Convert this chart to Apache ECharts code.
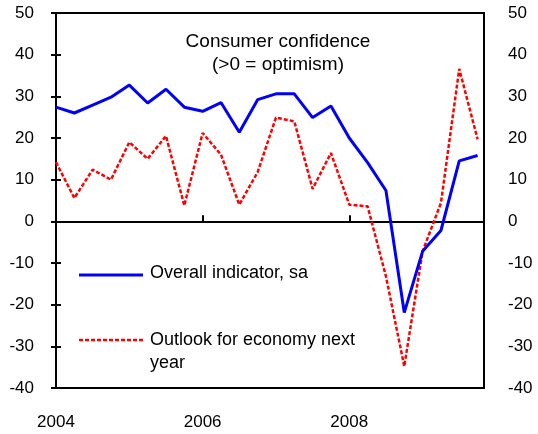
<!DOCTYPE html>
<html>
<head>
<meta charset="utf-8">
<script src="https://cdn.jsdelivr.net/npm/echarts@6/dist/echarts.min.js"></script>
<style>
  html, body { margin: 0; padding: 0; background: #fff; }
  #chart { width: 538px; height: 434px; }
</style>
</head>
<body>
<div id="chart"></div>
<script>
// quarterly, 2004Q1 .. 2009Q4
var overall = [27.4, 26.0, 27.9, 29.8, 32.7, 28.4, 31.7, 27.4, 26.4, 28.5, 21.4, 29.2,
  30.6, 30.6, 24.9, 27.7, 20.0, 14.1, 7.4, -21.9, -7.2, -2.2, 14.5, 15.8]
var outlook = [14.2, 5.6, 12.4, 10.0, 19.0, 15.0, 20.5, 3.8, 21.2, 16.0, 4.0, 11.8,
  24.9, 24.0, 7.8, 16.4, 4.0, 3.6, -13.2, -34.8, -7.2, 4.4, 36.6, 19.7]
var firstYear = 2004
var yearTicks = [2004, 2006, 2008]
var yTicks = [-40, -30, -20, -10, 0, 10, 20, 30, 40, 50]

var font = 'Liberation Sans, Arial, sans-serif'
var toPts = function (arr) {
  return arr.map(function (v, i) { return [i, v] })
}

var chart = echarts.init(document.getElementById('chart'))

var yBase = {
  type: 'value',
  min: yTicks[0],
  max: yTicks[yTicks.length - 1],
  interval: 10,
  splitLine: {show: false},
  axisLine: {show: true, lineStyle: {color: '#000', width: 2}},
  axisTick: {show: true, inside: true, length: 5, lineStyle: {color: '#000', width: 2}},
  axisLabel: {color: '#000', fontSize: 17, fontFamily: font}
}

chart.setOption({
  animation: false,
  grid: {left: 56, right: 54, top: 13, bottom: 46, show: true, borderColor: '#000', borderWidth: 2},
  title: {
    text: 'Consumer confidence\n(>0 = optimism)',
    left: 273, top: 25, textAlign: 'center',
    textStyle: {color: '#000', fontSize: 19, fontWeight: 'normal', fontFamily: font, lineHeight: 23}
  },
  xAxis: [{
    type: 'value', min: 0, max: 23.35, interval: 8, position: 'bottom',
    splitLine: {show: false},
    axisLine: {show: true, onZero: true, lineStyle: {color: '#000', width: 2}},
    axisTick: {show: true, inside: true, length: 6, lineStyle: {color: '#000', width: 2}},
    axisLabel: {show: false}
  }, {
    type: 'value', min: 0, max: 23.35, interval: 8, position: 'bottom',
    splitLine: {show: false},
    axisLine: {show: true, onZero: false, lineStyle: {color: '#000', width: 2}},
    axisTick: {show: false},
    axisLabel: {
      color: '#000', fontSize: 17, fontFamily: font, margin: 26, showMaxLabel: false,
      formatter: function (v) {
        var yr = firstYear + v / 4
        return yearTicks.indexOf(yr) >= 0 ? String(yr) : ''
      }
    }
  }],
  yAxis: [
    Object.assign({}, yBase, {position: 'left', axisLabel: Object.assign({}, yBase.axisLabel, {margin: 22})}),
    Object.assign({}, yBase, {position: 'right', axisLabel: Object.assign({}, yBase.axisLabel, {margin: 24})})
  ],
  series: [{
    name: 'Outlook for economy next year',
    type: 'line', data: toPts(outlook), showSymbol: false,
    lineStyle: {color: '#ff0000', width: 2.5, type: [4, 2]}
  }, {
    name: 'Overall indicator, sa',
    type: 'line', data: toPts(overall), showSymbol: false,
    lineStyle: {color: '#0000ff', width: 3}
  }],
  graphic: [
    {type: 'line', shape: {x1: 79, y1: 275, x2: 143, y2: 275}, style: {stroke: '#0000ff', lineWidth: 3}},
    {type: 'text', left: 150, top: 264, style: {text: 'Overall indicator, sa', fill: '#000', fontSize: 18, fontFamily: font}},
    {type: 'line', shape: {x1: 79, y1: 340, x2: 143, y2: 340}, style: {stroke: '#ff0000', lineWidth: 2.5, lineDash: [4, 2]}},
    {type: 'text', left: 150, top: 329, style: {text: 'Outlook for economy next\nyear', fill: '#000', fontSize: 18, fontFamily: font, lineHeight: 23}}
  ]
})
</script>
</body>
</html>
